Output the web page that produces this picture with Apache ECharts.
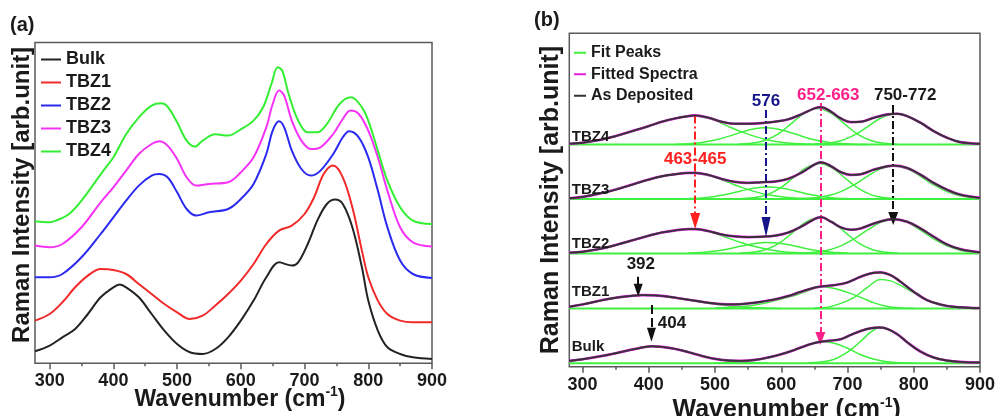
<!DOCTYPE html>
<html><head><meta charset="utf-8">
<script src="https://cdn.jsdelivr.net/npm/echarts@6/dist/echarts.min.js"></script>
<style>html,body{margin:0;padding:0;background:#fff}#c{width:997px;height:416px}</style>
</head><body><div id="c"></div>
<script>
// ================= Panel (a): Raman spectra [wavenumber, intensity] =================
const namesA = ['Bulk', 'TBZ1', 'TBZ2', 'TBZ3', 'TBZ4'];
const bulkA = [[277,12],[300,17.7],[320,26],[340,34.3],[360,49.3],[380,66],[400,76],[410,78.7],[420,76],[440,66],[460,49.3],[480,32.7],[500,19.3],[520,11],[540,9.3],[560,14.3],[580,26],[600,42.7],[620,62.7],[640,86],[660,101],[680,97.7],[690,101],[705,119.3],[720,142.7],[735,159.3],[748,163.7],[760,159.3],[775,136],[790,96],[800,62.7],[815,32.7],[830,16],[850,9.3],[870,6],[900,4.3]];
const tbz1A = [[277,42.7],[300,49.3],[320,61],[340,76],[360,87.7],[380,94.3],[400,93.3],[420,89.3],[440,79.3],[460,69.3],[480,59.3],[500,51],[520,44.3],[540,47.7],[560,57.7],[580,69.3],[600,82.7],[620,99.3],[640,119.3],[660,132.7],[680,137.7],[700,149.3],[715,166],[730,189.3],[745,197.7],[760,186],[775,156],[790,112.7],[800,86],[815,62.7],[830,49.3],[850,42.7],[870,41],[900,41]];
const tbz2A = [[277,86],[300,86],[320,89.3],[350,106],[380,129.3],[400,146],[420,162.7],[440,177.7],[460,187.7],[472,189.3],[485,186],[500,171],[515,154.3],[530,147.7],[550,151],[580,154.3],[600,164.3],[620,179.3],[640,209.3],[650,232.7],[660,242],[668,236],[680,212.7],[695,194.3],[710,187.7],[725,192.7],[745,209.3],[760,226],[770,232],[785,226],[800,206],[815,172.7],[830,136],[850,102.7],[870,89.3],[900,85.3]];
const tbz3A = [[277,117.7],[300,116],[320,119.3],[350,136],[380,161],[400,176],[420,192.7],[440,209.3],[460,219.3],[472,222],[485,217.7],[500,204.3],[515,186],[530,177.7],[550,179.3],[580,181],[600,191],[620,206],[640,236],[650,259.3],[660,272.7],[668,267.7],[680,242.7],[695,222.7],[710,214.3],[725,216],[745,229.3],[760,244.3],[772,252.7],[785,249.3],[800,232.7],[815,206],[830,172.7],[850,136],[870,121],[900,116.7]];
const tbz4A = [[277,142],[300,141],[310,142.7],[330,149],[350,162.7],[380,189],[400,206],[420,229],[440,246],[460,257.7],[475,260],[485,256.7],[500,241],[515,222.7],[528,216.7],[540,222.7],[560,229],[580,227.7],[600,234],[620,242.7],[635,256],[648,279.3],[658,296],[665,292.7],[675,269.3],[690,242.7],[705,231],[720,231],[735,239.3],[755,259.3],[773,266],[790,256],[800,242.7],[815,212.7],[830,182.7],[850,156],[870,142.7],[900,139.3]];
const seriesA = [bulkA, tbz1A, tbz2A, tbz3A, tbz4A];
const colorsA = ['#232323', '#f22a2a', '#2a2af0', '#f532f5', '#33ee33'];

// ================= Panel (b): fitted spectra (heights above each baseline) =================
const specNamesB = ['Bulk', 'TBZ1', 'TBZ2', 'TBZ3', 'TBZ4'];
const baseLevelsB = [3.5, 58.3, 113.3, 167.8, 222.3];

const depBulk = [[280,2.3],[300,4],[330,7.3],[350,10],[380,14.3],[404,17],[420,16.3],[440,14.3],[460,11],[480,7.3],[500,4.3],[520,2.7],[540,2.3],[560,3.3],[580,5.7],[600,9],[620,13.3],[640,18.3],[655,21],[670,22.3],[690,24],[705,28.3],[720,32.3],[735,35],[748,35.7],[760,34.3],[775,29],[790,21],[810,11.7],[830,5.7],[850,2.7],[870,1.3],[900,0.7]];
const depTBZ1 = [[280,1.7],[300,4],[330,8.3],[350,10.7],[370,12.3],[390,13.3],[410,13],[430,11.7],[450,9.7],[470,7.7],[490,5.7],[510,4.3],[530,4],[550,5],[570,6.7],[590,9],[610,12.3],[630,16.7],[650,20.7],[665,22.3],[680,23.3],[700,26],[720,31.7],[740,35.7],[750,36],[765,33.3],[780,26.7],[800,16.7],[820,8.3],[840,4],[860,1.7],[900,0.3]];
const depTBZ2 = [[280,0.7],[300,1.7],[330,5],[350,8.3],[380,14],[400,17.7],[420,21],[440,23],[460,24.3],[470,24.3],[490,22.3],[510,19],[530,17],[550,16.3],[570,16.7],[590,17.7],[610,20.7],[630,26.7],[650,34.3],[660,36.3],[675,31.7],[690,26],[705,23.7],[720,25],[740,30],[760,33.7],[770,34.3],[790,31.7],[810,25],[830,16.7],[850,9],[870,4.3],[900,1]];
const depTBZ3 = [[280,0.7],[300,2],[330,6],[350,9.3],[380,15.3],[400,19.3],[420,22.7],[440,24.7],[460,26],[470,26],[490,24],[510,20],[530,17],[550,16],[570,16.7],[590,17.3],[610,20],[630,26],[650,34.3],[660,36.7],[675,32.7],[690,26.7],[705,24],[720,24.7],[740,29.3],[760,32.7],[770,33.3],[790,31],[810,24.3],[830,16],[850,9.3],[870,4.3],[900,1]];
const depTBZ4 = [[280,0.7],[300,1.7],[330,5],[350,8.3],[380,14.3],[400,18.3],[420,22.7],[440,26],[460,28.3],[470,29],[490,26.7],[510,22.7],[530,20.7],[550,20.7],[570,21.3],[590,22.7],[610,25],[630,30],[650,36],[660,37.3],[675,32.7],[690,26],[705,22.3],[720,22.7],[740,26.7],[760,30],[775,30.7],[790,28.3],[810,21.7],[830,13.3],[850,6.7],[870,2.3],[900,0.7]];

const fitBulk404 = [[280,2],[300,3.8],[330,7],[350,9.8],[380,14.2],[404,17],[420,16.3],[440,14.3],[460,11],[480,7.3],[500,4.3],[520,2.3],[540,1],[560,0.4],[580,0]];
const fitBulk660 = [[500,0.2],[520,0.5],[540,1.3],[560,2.8],[580,5.2],[600,8.7],[620,13],[640,18],[660,21.7],[680,20],[700,15],[720,8.5],[740,4],[760,1.5],[780,0.4],[800,0]];
const fitBulk748 = [[640,0.3],[660,1.2],[680,4],[700,11],[720,22],[735,31],[748,35.5],[760,34],[775,29],[790,21],[810,11.5],[830,5.5],[850,2.5],[870,1],[900,0.2]];

const fitTBZ1_392 = [[280,1.5],[300,3.8],[330,8],[350,10.5],[370,12.2],[392,13.3],[410,13],[430,11.5],[450,9.5],[470,7.3],[490,5.2],[510,3.4],[530,2],[550,1],[570,0.4],[600,0]];
const fitTBZ1_662 = [[500,0.3],[520,0.8],[540,1.8],[560,3.5],[580,6],[600,9.5],[620,12.8],[640,17.5],[662,21.7],[680,20],[700,16],[720,11],[740,5.5],[760,2],[780,0.5],[800,0]];
const fitTBZ1_750 = [[650,0.3],[670,1.2],[690,5],[710,11],[730,21],[750,29],[765,27.5],[780,23],[800,15.5],[820,8],[840,3.5],[860,1.3],[880,0.3],[900,0]];

const fitTBZ2_465 = [[280,0.5],[300,1.5],[330,4.8],[350,8],[380,13.8],[400,17.5],[420,21],[440,23],[465,24.3],[480,23.3],[500,20],[520,15.3],[540,10.7],[560,6.8],[580,3.9],[600,2],[620,0.9],[650,0.2],[680,0]];
const fitTBZ2_576 = [[460,0.3],[480,0.9],[500,2.3],[520,4.5],[540,7.4],[560,10],[578,11],[600,10],[620,7.4],[640,4.5],[660,2.3],[680,0.9],[700,0.3]];
const fitTBZ2_657 = [[537,0.2],[557,1.1],[577,3.9],[597,10.3],[617,20.7],[637,31.3],[657,36],[677,31.3],[697,20.7],[717,10.3],[737,3.9],[757,1.1],[777,0.2]];
const fitTBZ2_770 = [[630,0.3],[650,1.1],[670,3.2],[690,7.5],[710,14.5],[730,23.3],[750,31],[770,34],[790,31],[810,23.3],[830,14.5],[850,7.5],[870,3.2],[890,1.1],[900,0.6]];

const fitTBZ3_465 = [[280,0.5],[300,1.8],[330,5.8],[350,9],[380,15],[400,19],[420,22.5],[440,24.7],[465,26],[480,25],[500,21.5],[520,16.5],[540,11.5],[560,7.3],[580,4.2],[600,2.2],[620,1],[650,0.2],[680,0]];
const fitTBZ3_580 = [[460,0.3],[480,1],[500,2.5],[520,4.9],[540,8.1],[560,10.9],[580,12],[600,10.9],[620,8.1],[640,4.9],[660,2.5],[680,1],[700,0.3]];
const fitTBZ3_657 = [[537,0.2],[557,1.1],[577,3.8],[597,10.2],[617,20.4],[637,30.9],[657,35.5],[677,30.9],[697,20.4],[717,10.2],[737,3.8],[757,1.1],[777,0.2]];
const fitTBZ3_770 = [[630,0.3],[650,1.1],[670,3.1],[690,7.3],[710,14.1],[730,22.6],[750,30],[770,33],[790,30],[810,22.6],[830,14.1],[850,7.3],[870,3.1],[890,1.1],[900,0.6]];

const fitTBZ4_465 = [[280,0.5],[300,1.5],[330,4.8],[350,8],[380,14],[400,18.3],[420,22.5],[440,26],[465,29],[480,27.5],[500,24],[520,18],[540,12.5],[560,8],[580,4.5],[600,2.2],[620,1],[650,0.2],[680,0]];
const fitTBZ4_576 = [[440,0],[460,0.7],[480,1.9],[500,4.3],[520,8],[540,12.3],[560,15.7],[576,16.7],[590,15.9],[610,12.7],[630,8.4],[650,4.6],[670,2.1],[690,0.8],[710,0.2],[730,0]];
const fitTBZ4_655 = [[535,0.2],[555,1.1],[575,3.9],[595,10.3],[615,20.7],[635,31.3],[655,36],[675,31.3],[695,20.7],[715,10.3],[735,3.9],[755,1.1],[775,0.2]];
const fitTBZ4_772 = [[650,0.3],[670,1.2],[690,3.7],[710,9.2],[730,17.6],[750,26.2],[772,30.5],[790,28.2],[810,21.4],[830,13.3],[850,6.8],[870,2.8],[890,1],[900,0.5]];

const depositedB = [depBulk, depTBZ1, depTBZ2, depTBZ3, depTBZ4];
const fitPeaksB = [
  [fitBulk404, fitBulk660, fitBulk748],
  [fitTBZ1_392, fitTBZ1_662, fitTBZ1_750],
  [fitTBZ2_465, fitTBZ2_576, fitTBZ2_657, fitTBZ2_770],
  [fitTBZ3_465, fitTBZ3_580, fitTBZ3_657, fitTBZ3_770],
  [fitTBZ4_465, fitTBZ4_576, fitTBZ4_655, fitTBZ4_772]
];
const baselineB = [[280, 0], [900, 0]];

// annotations of panel (b): [wavenumber, level], text
const spectrumLabelPosB = [[283, 19.7], [283, 74.7], [283, 122.7], [283, 176.7], [283, 229.7]];
const peakLabelsB = [
  {text: '463-465', pos: [470, 207.7], color: '#ff2020'},
  {text: '576', pos: [577, 265.7], color: '#16168a'},
  {text: '652-663', pos: [671, 271.7], color: '#ff1f88'},
  {text: '750-772', pos: [787, 271.7], color: '#1a1a1a'},
  {text: '392', pos: [388, 102.7], color: '#1a1a1a'},
  {text: '404', pos: [435, 43.7], color: '#1a1a1a'}
];
// arrows: x, from level, to level (arrow tip)
const arrowsB = [
  {x: 470, from: 251.3, to: 137.7, color: '#ff2020', type: 'dashdot', head: [10, 16]},
  {x: 577, from: 256.7, to: 129.7, color: '#16168a', type: 'dashdot', head: [9, 20]},
  {x: 659, from: 263.7, to: 21.7, color: '#ff1f88', type: 'dashdot', head: [10, 13]},
  {x: 769, from: 261.7, to: 141.7, color: '#111111', type: 'dashdot', head: [10, 13]},
  {x: 384, from: 90, to: 70, color: '#111111', type: 'solid', head: [9, 13]},
  {x: 404, from: 61.7, to: 25, color: '#111111', type: 'dashed', head: [9, 14]}
];

const majorTicks = [300, 400, 500, 600, 700, 800, 900];
const minorTicks = [350, 450, 550, 650, 750, 850];

// ================= build =================
const FONT = "'Liberation Sans', Arial, Helvetica, sans-serif";
const INK = '#1a1a1a';
const FRAME = '#5a5a5a';

function shift(arr, off) { return arr.map(p => [p[0], p[1] + off]); }

function xAxes(grid, min, nameSize, nameGap, namePadLeft) {
  return [
    {
      type: 'value', gridIndex: grid, min: min, max: 900, position: 'bottom',
      axisLine: {show: false}, splitLine: {show: false},
      axisTick: {show: true, customValues: majorTicks, length: 6, lineStyle: {color: FRAME, width: 1.5}},
      axisLabel: {customValues: majorTicks, fontSize: 18, fontWeight: 'bold', fontFamily: FONT, color: INK, margin: 9},
      name: '{t|Wavenumber (cm}{s|-1}{t|)}', nameLocation: 'middle', nameGap: nameGap, nameMoveOverlap: false,
      nameTextStyle: {
        padding: [0, 0, 0, namePadLeft],
        rich: {
          t: {fontSize: nameSize, fontWeight: 'bold', fontFamily: FONT, color: INK, lineHeight: 28},
          s: {fontSize: 14, fontWeight: 'bold', fontFamily: FONT, color: INK, lineHeight: 6, verticalAlign: 'top'}
        }
      }
    },
    {
      type: 'value', gridIndex: grid, min: min, max: 900, position: 'bottom',
      axisLine: {show: false}, splitLine: {show: false},
      axisTick: {show: true, customValues: minorTicks, length: 3, lineStyle: {color: FRAME, width: 1.5}},
      axisLabel: {show: false, customValues: minorTicks}
    }
  ];
}

function yAxis(grid, max, size, gap, padLeft) {
  return {
    type: 'value', gridIndex: grid, min: 0, max: max,
    axisLine: {show: false}, axisTick: {show: false}, axisLabel: {show: false}, splitLine: {show: false},
    name: 'Raman Intensity [arb.unit]', nameLocation: 'middle', nameGap: gap, nameMoveOverlap: false,
    nameTextStyle: {fontSize: size, fontWeight: 'bold', fontFamily: FONT, color: INK, lineHeight: size, padding: [0, 0, 0, padLeft]}
  };
}

const series = [];
// panel (a)
seriesA.forEach((d, i) => {
  series.push({
    type: 'line', name: namesA[i], xAxisIndex: 0, yAxisIndex: 0, data: d,
    smooth: 0.35, showSymbol: false, symbol: 'none', z: 2 + i,
    lineStyle: {color: colorsA[i], width: 2}, itemStyle: {color: colorsA[i]}
  });
});
// panel (b)
const GREEN = '#3ff03f', MAG = '#e41fe4', DEP = '#333333';
specNamesB.forEach((nm, i) => {
  const off = baseLevelsB[i];
  series.push({
    type: 'line', name: 'Fit Peaks', xAxisIndex: 2, yAxisIndex: 1, data: shift(baselineB, off),
    showSymbol: false, symbol: 'none', z: 2, lineStyle: {color: GREEN, width: 2}, itemStyle: {color: GREEN}
  });
  fitPeaksB[i].forEach(fp => {
    series.push({
      type: 'line', name: 'Fit Peaks', xAxisIndex: 2, yAxisIndex: 1, data: shift(fp, off),
      smooth: 0.4, showSymbol: false, symbol: 'none', z: 3, lineStyle: {color: GREEN, width: 1.5}, itemStyle: {color: GREEN}
    });
  });
  series.push({
    type: 'line', name: 'Fitted Spectra', xAxisIndex: 2, yAxisIndex: 1, data: shift(depositedB[i], off),
    smooth: 0.4, showSymbol: false, symbol: 'none', z: 4, lineStyle: {color: MAG, width: 2.6}, itemStyle: {color: MAG}
  });
  series.push({
    type: 'line', name: 'As Deposited', xAxisIndex: 2, yAxisIndex: 1, data: shift(depositedB[i], off),
    smooth: 0.4, showSymbol: false, symbol: 'none', z: 5, lineStyle: {color: DEP, width: 1.9}, itemStyle: {color: DEP}
  });
});
// arrows
const dashPattern = {dashdot: [8, 3, 2, 3], dashed: [9, 4], solid: 'solid'};
series.push({
  type: 'line', name: 'arrows', xAxisIndex: 2, yAxisIndex: 1, data: [], z: 6, silent: true,
  markLine: {
    silent: true, animation: false, label: {show: false},
    data: arrowsB.map(a => [
      {coord: [a.x, a.from], symbol: 'none', lineStyle: {color: a.color, width: 2, type: dashPattern[a.type]}},
      {coord: [a.x, a.to + a.head[1] / 2], symbol: 'triangle', symbolSize: a.head}
    ])
  }
});
// spectrum name labels (b)
series.push({
  type: 'scatter', name: 'specLabels', xAxisIndex: 2, yAxisIndex: 1, symbolSize: 1, z: 7, silent: true,
  itemStyle: {color: 'rgba(0,0,0,0)', opacity: 1},
  data: specNamesB.map((nm, i) => ({value: spectrumLabelPosB[i], name: nm})),
  label: {show: true, position: 'right', distance: 0, formatter: p => p.name, opacity: 1,
    fontSize: 15, fontWeight: 'bold', fontFamily: FONT, color: INK}
});
series.push({
  type: 'scatter', name: 'peakLabels', xAxisIndex: 2, yAxisIndex: 1, symbolSize: 1, z: 7, silent: true,
  itemStyle: {color: 'rgba(0,0,0,0)', opacity: 1},
  data: peakLabelsB.map(l => ({value: l.pos, name: l.text,
    label: {color: l.color, opacity: 1}})),
  label: {show: true, position: 'inside', formatter: p => p.name, opacity: 1,
    fontSize: 17, fontWeight: 'bold', fontFamily: FONT}
});

const option = {
  animation: false,
  backgroundColor: '#ffffff',
  title: [
    {text: '(a)', left: 10, top: 15, padding: 0, textStyle: {fontSize: 20, fontWeight: 'bold', fontFamily: FONT, color: INK}},
    {text: '(b)', left: 534, top: 10, padding: 0, textStyle: {fontSize: 20, fontWeight: 'bold', fontFamily: FONT, color: INK}}
  ],
  grid: [
    {left: 35, top: 42.5, width: 397, height: 320.8, show: true, borderColor: FRAME, borderWidth: 1.5, outerBoundsMode: 'none', containLabel: false},
    {left: 569.3, top: 33.3, width: 410.7, height: 333.4, show: true, borderColor: FRAME, borderWidth: 1.5, outerBoundsMode: 'none', containLabel: false}
  ],
  xAxis: [].concat(xAxes(0, 277, 23, 22, 13), xAxes(1, 280, 25, 29, 24)),
  yAxis: [yAxis(0, 320.8, 24, 1, 16), yAxis(1, 333.4, 25, 6, 0)],
  legend: [
    {
      data: namesA, orient: 'vertical', left: 41, top: 48, padding: 0, itemGap: 0,
      itemWidth: 20, itemHeight: 2, icon: 'rect', selectedMode: false,
      textStyle: {fontSize: 18, fontWeight: 'bold', fontFamily: FONT, color: INK, lineHeight: 17, padding: [0, 0, 6, 0]}
    },
    {
      data: ['Fit Peaks', 'Fitted Spectra', 'As Deposited'], orient: 'vertical', left: 574, top: 42, padding: 0, itemGap: 0,
      itemWidth: 12, itemHeight: 2, icon: 'rect', selectedMode: false,
      textStyle: {fontSize: 16, fontWeight: 'bold', fontFamily: FONT, color: INK, lineHeight: 13.5, padding: [0, 0, 8, 0]}
    }
  ],
  series: series
};

const chart = echarts.init(document.getElementById('c'), null, {renderer: 'canvas'});
chart.setOption(option);
</script>
</body></html>
